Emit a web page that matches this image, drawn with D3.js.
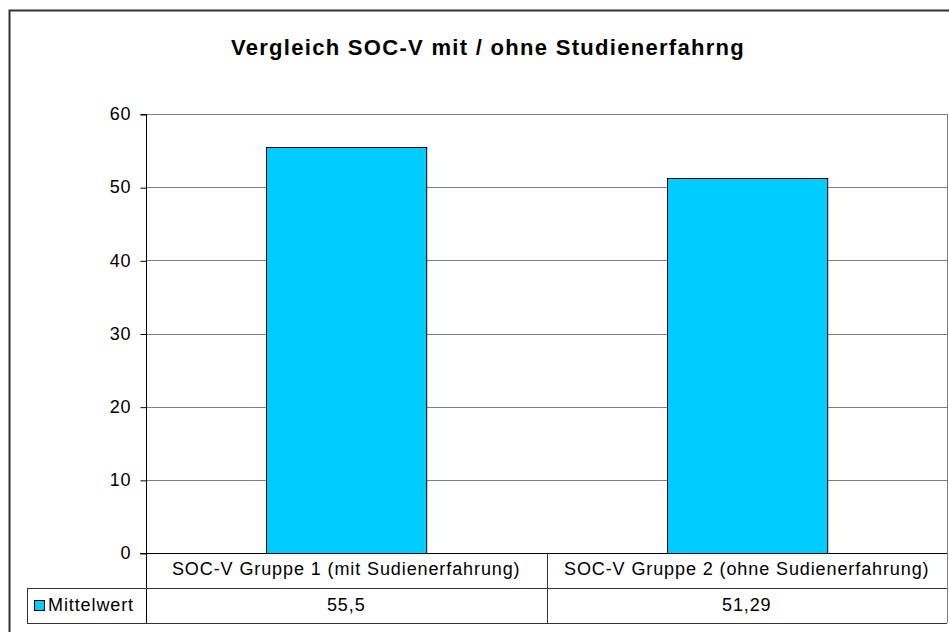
<!DOCTYPE html>
<html>
<head>
<meta charset="utf-8">
<script src="https://cdn.jsdelivr.net/npm/d3@7"></script>
<style>
  body { margin: 0; background: #fff; }
  svg { display: block; font-family: "Liberation Sans", Arial, sans-serif; }
</style>
</head>
<body>
<svg id="chart" width="949" height="632"></svg>
<script>
// Data
const categories = ["SOC-V Gruppe 1 (mit Sudienerfahrung)", "SOC-V Gruppe 2 (ohne Sudienerfahrung)"];
const values = [55.5, 51.29];
const valueLabels = ["55,5", "51,29"];
const seriesName = "Mittelwert";
const yTicks = [0, 10, 20, 30, 40, 50, 60];
const title = "Vergleich SOC-V mit / ohne Studienerfahrng";

const BAR_COLOR = "#00CCFF";
const GRID_COLOR = "#808080";
const FONT_SIZE = "18px";
const SPACING = "0.9px";

const svg = d3.select("#chart");

// Outer chart frame (runs off right/bottom edge)
svg.append("path")
  .attr("d", "M9.5,640 V10.5 H980")
  .attr("fill", "none")
  .attr("stroke", "#333")
  .attr("stroke-width", 2);

svg.append("text")
  .attr("x", 488)
  .attr("y", 55)
  .attr("text-anchor", "middle")
  .attr("font-size", "22px")
  .attr("font-weight", "bold")
  .attr("letter-spacing", "1.3px")
  .text(title);

const plot = { left: 146, right: 947, top: 114, bottom: 553 };
const tableLeft = 27;
const rowH = 35;

const x = d3.scaleBand()
  .domain(categories)
  .range([plot.left, plot.right])
  .paddingInner(0.6)
  .paddingOuter(0.3);

const xCell = d3.scaleBand()
  .domain(categories)
  .range([plot.left, plot.right]);

const y = d3.scaleLinear()
  .domain([0, 60])
  .range([plot.bottom, plot.top]);

// Gridlines
svg.append("g")
  .selectAll("line")
  .data(yTicks.filter(d => d > 0))
  .join("line")
  .attr("x1", plot.left)
  .attr("x2", plot.right)
  .attr("y1", d => Math.round(y(d)) + 0.5)
  .attr("y2", d => Math.round(y(d)) + 0.5)
  .attr("stroke", GRID_COLOR);

// Right plot edge
svg.append("line")
  .attr("x1", plot.right + 0.5).attr("x2", plot.right + 0.5)
  .attr("y1", plot.top).attr("y2", plot.bottom + 2 * rowH)
  .attr("stroke", GRID_COLOR);

// Bars
svg.append("g")
  .selectAll("rect")
  .data(values)
  .join("rect")
  .attr("x", (d, i) => Math.round(x(categories[i])) + 0.5)
  .attr("y", d => Math.round(y(d)) + 0.5)
  .attr("width", x.bandwidth())
  .attr("height", d => Math.round(y(0)) - Math.round(y(d)))
  .attr("fill", BAR_COLOR)
  .attr("stroke", "#000")
  .attr("stroke-width", 1);

// Y axis
const yAxis = d3.axisLeft(y)
  .tickValues(yTicks)
  .tickSize(6)
  .tickPadding(9)
  .tickFormat(d3.format("d"));

const ga = svg.append("g")
  .attr("transform", `translate(${plot.left + 0.5},0)`)
  .call(yAxis);
ga.select(".domain").attr("stroke", "#000").attr("d", `M-6,${plot.top + 0.5}H0V${plot.bottom + 2 * rowH}`);
ga.selectAll(".tick line").attr("stroke", "#000").attr("transform", "translate(0,0.5)");
ga.selectAll(".tick text")
  .attr("font-size", FONT_SIZE)
  .attr("letter-spacing", SPACING)
  .attr("font-family", "Liberation Sans, Arial, sans-serif")
  .attr("fill", "#000");

// Data table
const t = svg.append("g");
const r1 = plot.bottom, r2 = plot.bottom + rowH, r3 = plot.bottom + 2 * rowH;

// horizontal lines
t.append("line").attr("x1", plot.left - 6).attr("x2", plot.right).attr("y1", r1 + 0.5).attr("y2", r1 + 0.5).attr("stroke", "#000");
t.append("line").attr("x1", tableLeft).attr("x2", plot.right).attr("y1", r2 + 0.5).attr("y2", r2 + 0.5).attr("stroke", "#333");
t.append("line").attr("x1", tableLeft).attr("x2", plot.right).attr("y1", r3 + 0.5).attr("y2", r3 + 0.5).attr("stroke", "#333");
// vertical lines
t.append("line").attr("x1", tableLeft + 0.5).attr("x2", tableLeft + 0.5).attr("y1", r2).attr("y2", r3).attr("stroke", "#333");
t.append("line")
  .attr("x1", Math.round(xCell(categories[1])) + 0.5)
  .attr("x2", Math.round(xCell(categories[1])) + 0.5)
  .attr("y1", r1).attr("y2", r3).attr("stroke", "#333");

t.selectAll("text.cat")
  .data(categories)
  .join("text")
  .attr("class", "cat")
  .attr("x", d => xCell(d) + xCell.bandwidth() / 2)
  .attr("y", r1 + 22)
  .attr("text-anchor", "middle")
  .attr("font-size", FONT_SIZE)
  .attr("letter-spacing", SPACING)
  .text(d => d);

t.selectAll("text.val")
  .data(valueLabels)
  .join("text")
  .attr("class", "val")
  .attr("x", (d, i) => xCell(categories[i]) + xCell.bandwidth() / 2)
  .attr("y", r2 + 23)
  .attr("text-anchor", "middle")
  .attr("font-size", FONT_SIZE)
  .attr("letter-spacing", SPACING)
  .text(d => d);

// Legend key in table
t.append("rect")
  .attr("x", 34.5).attr("y", r2 + 12.5)
  .attr("width", 10).attr("height", 10)
  .attr("fill", BAR_COLOR)
  .attr("stroke", "#000");
t.append("text")
  .attr("x", 48)
  .attr("y", r2 + 23)
  .attr("font-size", FONT_SIZE)
  .attr("letter-spacing", SPACING)
  .text(seriesName);
</script>
</body>
</html>
